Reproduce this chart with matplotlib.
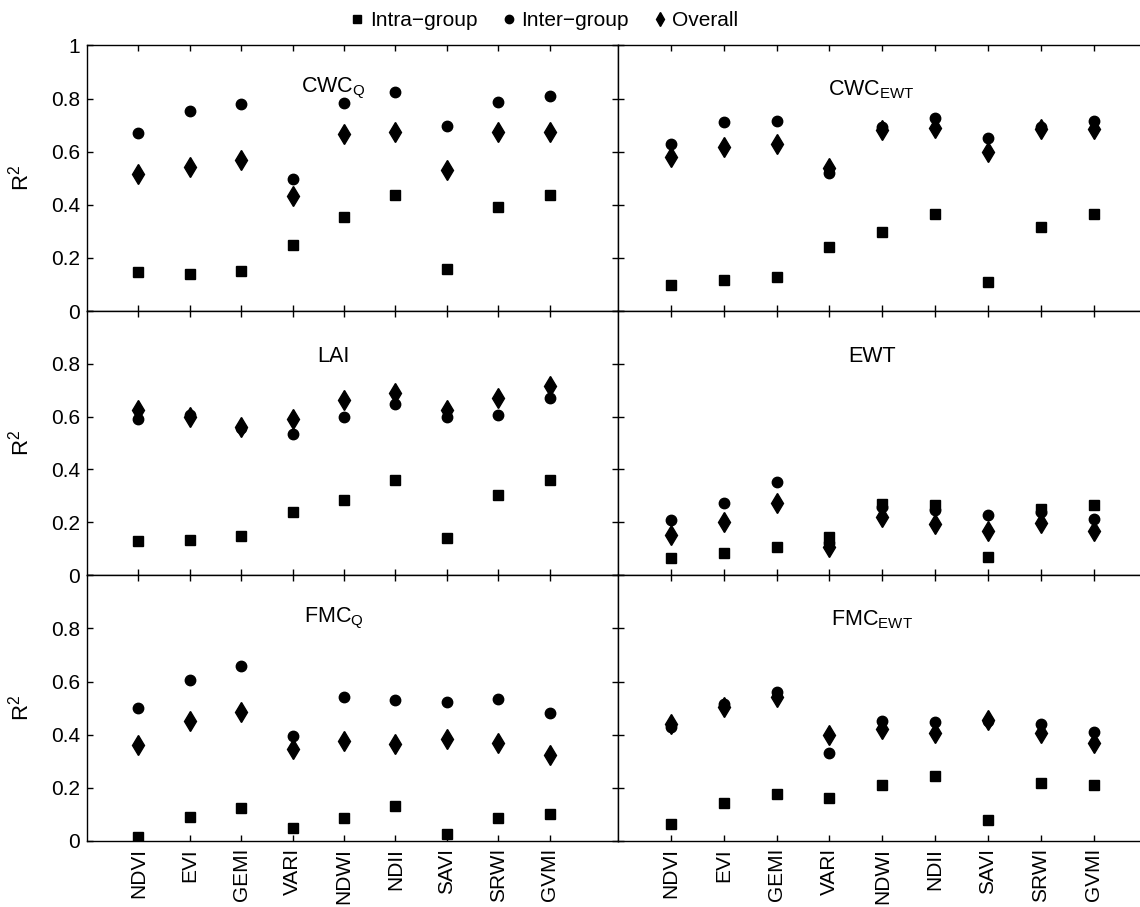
import matplotlib
matplotlib.use("Agg")
import matplotlib.pyplot as plt
from matplotlib.lines import Line2D

plt.rcParams["font.family"] = ["Liberation Sans", "DejaVu Sans"]
plt.rcParams["mathtext.fontset"] = "custom"
plt.rcParams["mathtext.rm"] = "Liberation Sans"
plt.rcParams["mathtext.it"] = "Liberation Sans"

indices = ["NDVI", "EVI", "GEMI", "VARI", "NDWI", "NDII", "SAVI", "SRWI", "GVMI"]
series_names = ["Intra\u2212group", "Inter\u2212group", "Overall"]

# R2 values, one list per panel and series
cwcq_intra = [0.147, 0.140, 0.152, 0.248, 0.355, 0.437, 0.157, 0.393, 0.435]
cwcq_inter = [0.670, 0.754, 0.781, 0.497, 0.783, 0.823, 0.698, 0.787, 0.809]
cwcq_overall = [0.515, 0.541, 0.568, 0.434, 0.667, 0.673, 0.530, 0.674, 0.673]

cwcewt_intra = [0.099, 0.118, 0.127, 0.242, 0.297, 0.366, 0.109, 0.316, 0.366]
cwcewt_inter = [0.628, 0.711, 0.716, 0.518, 0.693, 0.728, 0.653, 0.694, 0.714]
cwcewt_overall = [0.579, 0.618, 0.630, 0.540, 0.683, 0.689, 0.597, 0.684, 0.684]

lai_intra = [0.129, 0.134, 0.148, 0.237, 0.283, 0.359, 0.139, 0.303, 0.360]
lai_inter = [0.592, 0.605, 0.556, 0.534, 0.597, 0.648, 0.597, 0.606, 0.669]
lai_overall = [0.625, 0.600, 0.560, 0.590, 0.663, 0.691, 0.625, 0.672, 0.716]

ewt_intra = [0.063, 0.083, 0.105, 0.144, 0.271, 0.265, 0.069, 0.249, 0.266]
ewt_inter = [0.208, 0.274, 0.352, 0.120, 0.256, 0.246, 0.226, 0.240, 0.212]
ewt_overall = [0.152, 0.201, 0.274, 0.108, 0.218, 0.193, 0.167, 0.198, 0.167]

fmcq_intra = [0.016, 0.090, 0.125, 0.050, 0.086, 0.130, 0.028, 0.086, 0.103]
fmcq_inter = [0.499, 0.604, 0.659, 0.396, 0.543, 0.529, 0.524, 0.533, 0.480]
fmcq_overall = [0.362, 0.450, 0.486, 0.346, 0.377, 0.365, 0.383, 0.368, 0.325]

fmcewt_intra = [0.063, 0.143, 0.177, 0.162, 0.212, 0.243, 0.080, 0.217, 0.209]
fmcewt_inter = [0.427, 0.514, 0.560, 0.330, 0.452, 0.449, 0.450, 0.440, 0.411]
fmcewt_overall = [0.440, 0.505, 0.543, 0.400, 0.420, 0.405, 0.455, 0.407, 0.370]

panels = [
    (r"CWC$_{\mathrm{Q}}$", cwcq_intra, cwcq_inter, cwcq_overall),
    (r"CWC$_{\mathrm{EWT}}$", cwcewt_intra, cwcewt_inter, cwcewt_overall),
    ("LAI", lai_intra, lai_inter, lai_overall),
    ("EWT", ewt_intra, ewt_inter, ewt_overall),
    (r"FMC$_{\mathrm{Q}}$", fmcq_intra, fmcq_inter, fmcq_overall),
    (r"FMC$_{\mathrm{EWT}}$", fmcewt_intra, fmcewt_inter, fmcewt_overall),
]

markers = [("s", 6.5), ("o", 7.5), ("d", 10)]

fig = plt.figure(figsize=(11.4, 9.07), dpi=100)

col_left = [0.0763, 0.5421]
col_width = [0.4658, 0.479]
row_bottom = [0.657, 0.366, 0.0728]
row_height = [0.293, 0.291, 0.293]

x = list(range(1, len(indices) + 1))

for k, (title, intra, inter, overall) in enumerate(panels):
    r, c = divmod(k, 2)
    ax = fig.add_axes([col_left[c], row_bottom[r], col_width[c], row_height[r]])
    for vals, (m, ms) in zip([intra, inter, overall], markers):
        ax.plot(x, vals, linestyle="none", marker=m, markersize=ms,
                color="black", markeredgecolor="black")
    ax.set_xlim(0, 10.33)
    ax.set_ylim(0, 1)
    ax.set_xticks(x)
    ax.set_yticks([0, 0.2, 0.4, 0.6, 0.8, 1.0])
    if r == 0:
        ax.set_yticklabels(["0", "0.2", "0.4", "0.6", "0.8", "1"])
    else:
        ax.set_yticklabels(["0", "0.2", "0.4", "0.6", "0.8", ""])
    if c == 1:
        ax.set_yticklabels([])
    else:
        ax.set_ylabel(r"R$^2$", fontsize=16)
        ax.yaxis.set_label_coords(-0.10, 0.5)
    if r == 2:
        ax.set_xticklabels(indices, rotation=90, fontsize=15)
    else:
        ax.set_xticklabels([])
    ax.tick_params(direction="in", top=True, right=True, length=4,
                   width=1, labelsize=15, pad=5)
    for sp in ax.spines.values():
        sp.set_linewidth(1.0)
    ax.text(4.8, 0.79, title, ha="center", va="bottom", fontsize=15.5)

handles = [Line2D([], [], linestyle="none", marker=m, markersize=s,
                  color="black") for (m, _), s in zip(markers, [5.5, 6, 7])]
fig.legend(handles, series_names, loc="center", bbox_to_anchor=(0.478, 0.977),
           ncol=3, frameon=False, fontsize=15, handlelength=0.6,
           handletextpad=0.3, columnspacing=1.2)

fig.savefig("out.png", dpi=100)
